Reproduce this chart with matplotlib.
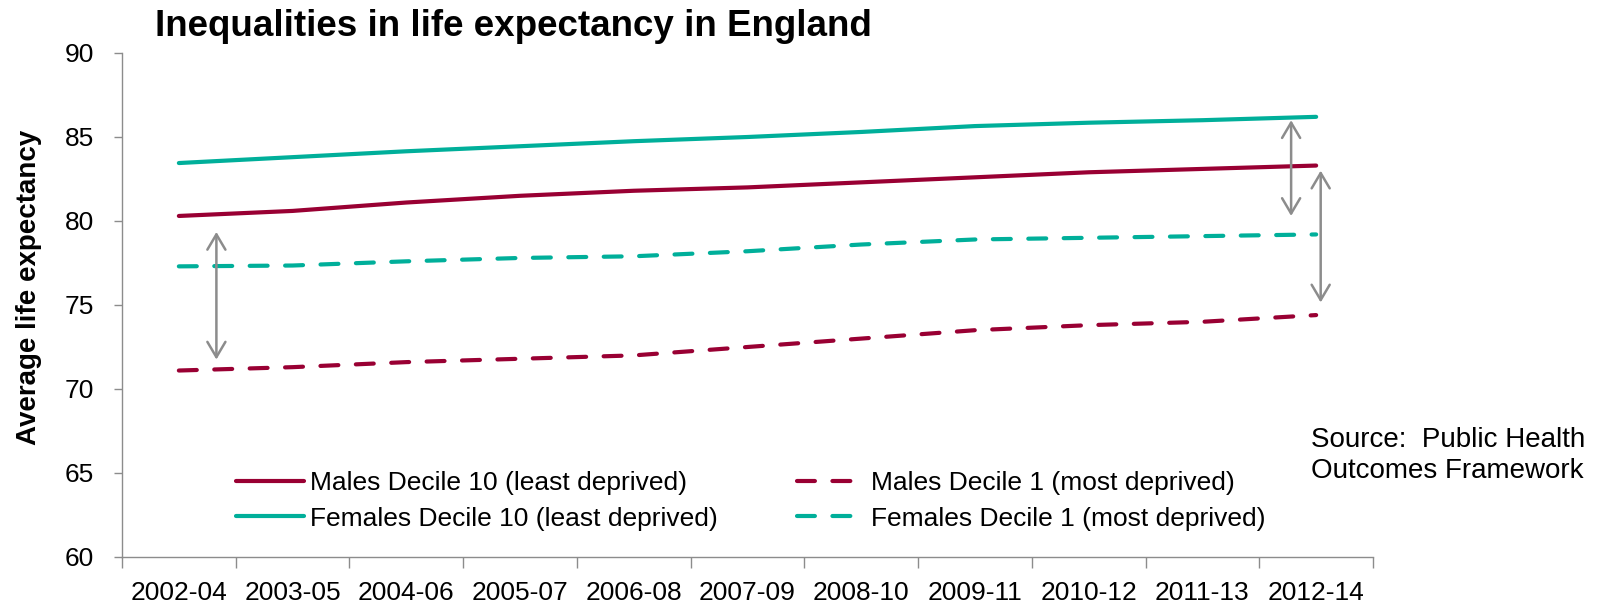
import matplotlib
matplotlib.use("Agg")
import matplotlib.pyplot as plt
import numpy as np

periods = ["2002-04", "2003-05", "2004-06", "2005-07", "2006-08", "2007-09",
           "2008-10", "2009-11", "2010-12", "2011-13", "2012-14"]
males_d10 = [80.3, 80.6, 81.1, 81.5, 81.8, 82.0, 82.3, 82.6, 82.9, 83.1, 83.3]
females_d10 = [83.45, 83.8, 84.15, 84.45, 84.75, 85.0, 85.3, 85.65, 85.85, 86.0, 86.2]
males_d1 = [71.1, 71.3, 71.6, 71.8, 72.0, 72.5, 73.0, 73.5, 73.8, 74.0, 74.4]
females_d1 = [77.3, 77.35, 77.6, 77.8, 77.9, 78.2, 78.6, 78.9, 79.0, 79.1, 79.2]
yticks = [60, 65, 70, 75, 80, 85, 90]

RED = "#990033"
TEAL = "#00AF9A"
GREY = "#8C8C8C"

plt.rcParams['font.family'] = ['Liberation Sans', 'DejaVu Sans']

fig = plt.figure(figsize=(16.02, 6.02), dpi=100)
ax = fig.add_axes([122/1602, 45/602, 1251/1602, 504/602])

x = np.arange(len(periods))
lw = 3.0
ax.plot(x, males_d10, color=RED, lw=lw, solid_capstyle='round', label="Males Decile 10 (least deprived)")
ax.plot(x, females_d10, color=TEAL, lw=lw, solid_capstyle='round', label="Females Decile 10 (least deprived)")
ax.plot(x, males_d1, color=RED, lw=lw, dashes=(4.3, 4.2), dash_capstyle='round', label="Males Decile 1 (most deprived)")
ax.plot(x, females_d1, color=TEAL, lw=lw, dashes=(4.3, 4.2), dash_capstyle='round', label="Females Decile 1 (most deprived)")

# gap arrows
arrow_kw = dict(arrowstyle='<->,head_length=1.1,head_width=0.65', color=GREY, lw=1.8, shrinkA=0, shrinkB=0)
ax.annotate("", xy=(0.33, 79.35), xytext=(0.33, 71.75), arrowprops=arrow_kw)
ax.annotate("", xy=(9.78, 86.0), xytext=(9.78, 80.3), arrowprops=arrow_kw)
ax.annotate("", xy=(10.04, 83.0), xytext=(10.04, 75.15), arrowprops=arrow_kw)

ax.set_xlim(-0.5, len(periods) - 0.5)
ax.set_ylim(60, 90)
ax.set_yticks(yticks)
ax.set_yticklabels([str(v) for v in yticks], fontsize=19)
ax.set_xticks(x)
ax.set_xticklabels(periods, fontsize=19)
ax.set_xticks(np.arange(len(periods) + 1) - 0.5, minor=True)
ax.tick_params(axis='x', which='major', length=0, pad=17)
ax.tick_params(axis='x', which='minor', length=8, color=GREY, width=1)
ax.tick_params(axis='y', length=6, color=GREY, width=1, pad=14)

for s in ['top', 'right']:
    ax.spines[s].set_visible(False)
for s in ['left', 'bottom']:
    ax.spines[s].set_color(GREY)
    ax.spines[s].set_linewidth(1)

ax.set_ylabel("Average life expectancy", fontsize=20, fontweight='bold')
ax.yaxis.set_label_coords(-0.064, 0.535)

handles, labels = ax.get_legend_handles_labels()
leg = ax.legend(handles, labels, ncol=2, loc='lower left', bbox_to_anchor=(0.072, 0.005),
                frameon=False, fontsize=19, handlelength=2.6, handletextpad=0.2,
                columnspacing=3.0, labelspacing=0.45)

fig.text(155/1602, 1 - 27/602, "Inequalities in life expectancy in England",
         fontsize=26.5, fontweight='bold', ha='left', va='center')
fig.text(1311/1602, 1 - 427/602, "Source:  Public Health\nOutcomes Framework",
         fontsize=20, ha='left', va='top', linespacing=1.25)

fig.savefig("out.png", dpi=100)
